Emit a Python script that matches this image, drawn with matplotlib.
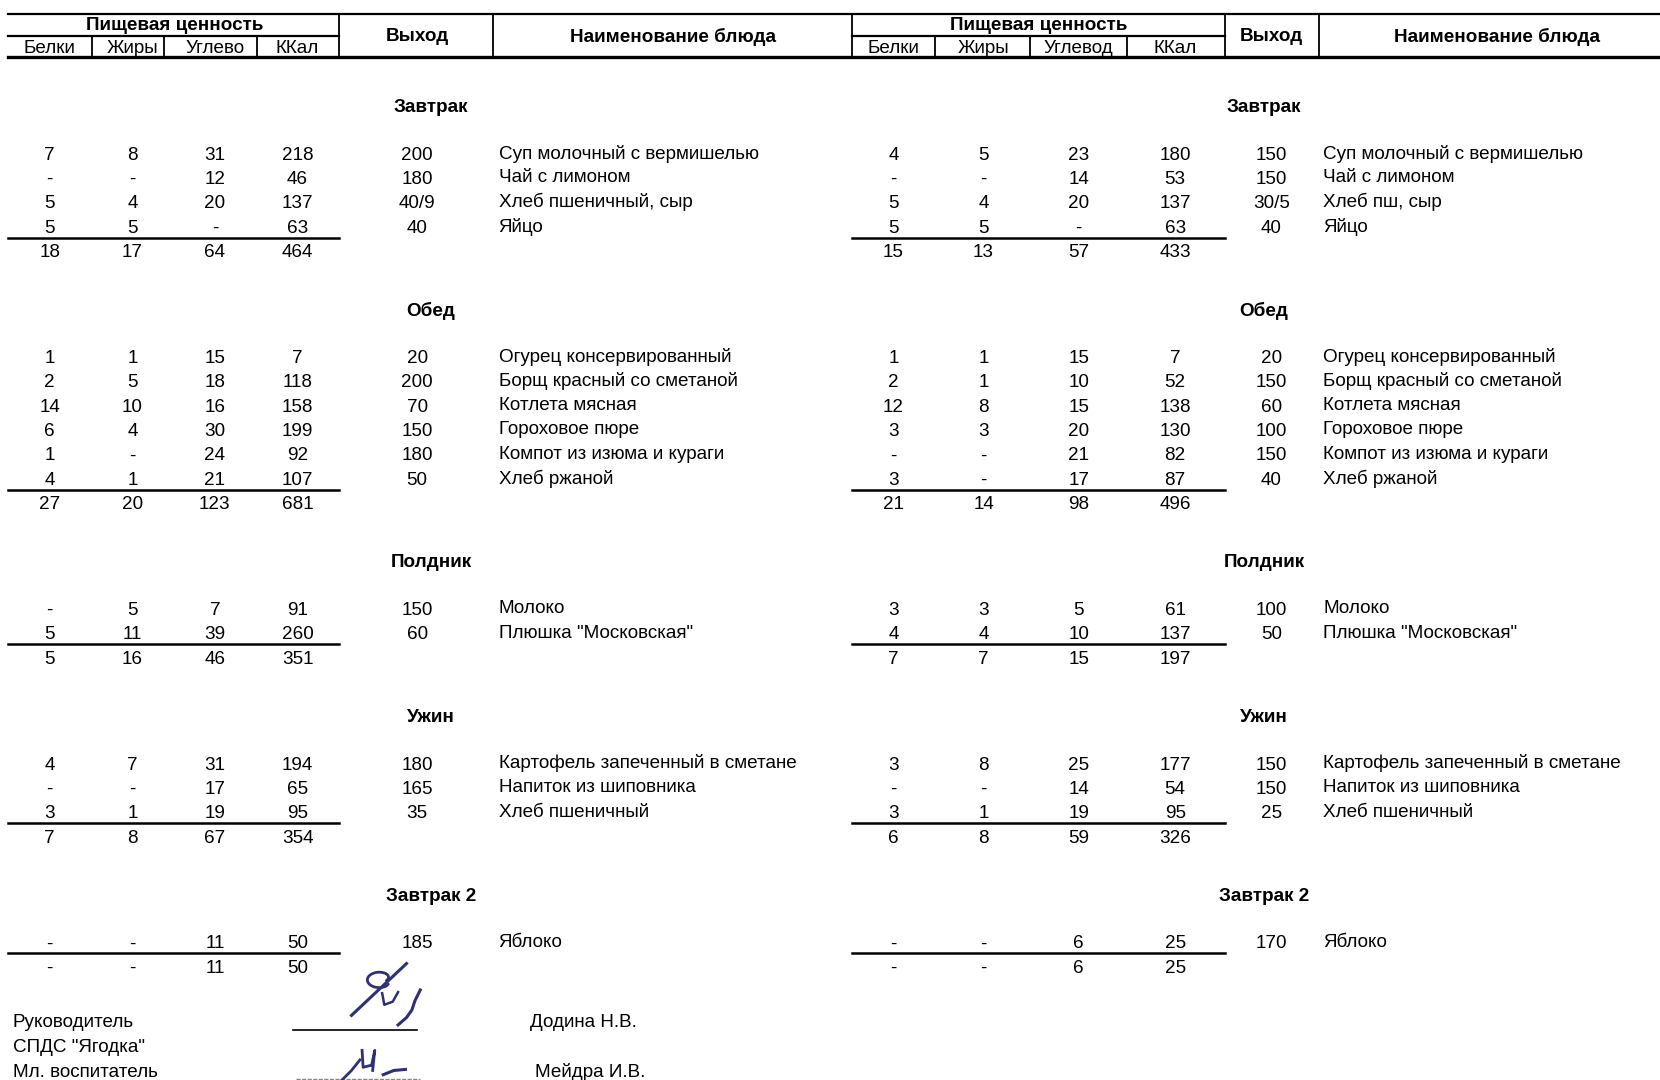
import numpy as np
import matplotlib.pyplot as plt
from matplotlib import font_manager

# =========================================================
# DATA
# =========================================================

sections = ["Завтрак", "Обед", "Полдник", "Ужин", "Завтрак 2"]

# columns: белки, жиры, углеводы, ккал, выход, блюдо
breakfast_left = [
    ["7", "8", "31", "218", "200", "Суп молочный с вермишелью"],
    ["-", "-", "12", "46", "180", "Чай с лимоном"],
    ["5", "4", "20", "137", "40/9", "Хлеб пшеничный, сыр"],
    ["5", "5", "-", "63", "40", "Яйцо"],
]
breakfast_left_total = ["18", "17", "64", "464"]

breakfast_right = [
    ["4", "5", "23", "180", "150", "Суп молочный с вермишелью"],
    ["-", "-", "14", "53", "150", "Чай с лимоном"],
    ["5", "4", "20", "137", "30/5", "Хлеб пш, сыр"],
    ["5", "5", "-", "63", "40", "Яйцо"],
]
breakfast_right_total = ["15", "13", "57", "433"]

lunch_left = [
    ["1", "1", "15", "7", "20", "Огурец консервированный"],
    ["2", "5", "18", "118", "200", "Борщ красный со сметаной"],
    ["14", "10", "16", "158", "70", "Котлета мясная"],
    ["6", "4", "30", "199", "150", "Гороховое пюре"],
    ["1", "-", "24", "92", "180", "Компот из изюма и кураги"],
    ["4", "1", "21", "107", "50", "Хлеб ржаной"],
]
lunch_left_total = ["27", "20", "123", "681"]

lunch_right = [
    ["1", "1", "15", "7", "20", "Огурец консервированный"],
    ["2", "1", "10", "52", "150", "Борщ красный со сметаной"],
    ["12", "8", "15", "138", "60", "Котлета мясная"],
    ["3", "3", "20", "130", "100", "Гороховое пюре"],
    ["-", "-", "21", "82", "150", "Компот из изюма и кураги"],
    ["3", "-", "17", "87", "40", "Хлеб ржаной"],
]
lunch_right_total = ["21", "14", "98", "496"]

snack_left = [
    ["-", "5", "7", "91", "150", "Молоко"],
    ["5", "11", "39", "260", "60", "Плюшка \"Московская\""],
]
snack_left_total = ["5", "16", "46", "351"]

snack_right = [
    ["3", "3", "5", "61", "100", "Молоко"],
    ["4", "4", "10", "137", "50", "Плюшка \"Московская\""],
]
snack_right_total = ["7", "7", "15", "197"]

dinner_left = [
    ["4", "7", "31", "194", "180", "Картофель запеченный в сметане"],
    ["-", "-", "17", "65", "165", "Напиток из шиповника"],
    ["3", "1", "19", "95", "35", "Хлеб пшеничный"],
]
dinner_left_total = ["7", "8", "67", "354"]

dinner_right = [
    ["3", "8", "25", "177", "150", "Картофель запеченный в сметане"],
    ["-", "-", "14", "54", "150", "Напиток из шиповника"],
    ["3", "1", "19", "95", "25", "Хлеб пшеничный"],
]
dinner_right_total = ["6", "8", "59", "326"]

breakfast2_left = [["-", "-", "11", "50", "185", "Яблоко"]]
breakfast2_left_total = ["-", "-", "11", "50"]

breakfast2_right = [["-", "-", "6", "25", "170", "Яблоко"]]
breakfast2_right_total = ["-", "-", "6", "25"]

left_rows = [breakfast_left, lunch_left, snack_left, dinner_left, breakfast2_left]
left_totals = [breakfast_left_total, lunch_left_total, snack_left_total,
               dinner_left_total, breakfast2_left_total]
right_rows = [breakfast_right, lunch_right, snack_right, dinner_right, breakfast2_right]
right_totals = [breakfast_right_total, lunch_right_total, snack_right_total,
                dinner_right_total, breakfast2_right_total]

left_sub = ["Белки", "Жиры", "Углево", "ККал"]
right_sub = ["Белки", "Жиры", "Углевод", "ККал"]

signers = ["Руководитель", "СПДС \"Ягодка\"", "Мл. воспитатель"]
signer_names = ["Додина Н.В.", "Мейдра И.В."]

# =========================================================
# LAYOUT (page units)
# =========================================================

W, H = 1568, 1020
fs = 13.6
dy = 2.5   # nudge text down a little

left_cols = [47, 125, 203, 281, 394, 471]
right_cols = [844, 929, 1019, 1110, 1201, 1250]
left_span = (8, 320)
right_span = (805, 1157)
left_title_x = 407
right_title_x = 1194

names = [f.name for f in font_manager.fontManager.ttflist]
family = "Liberation Sans" if "Liberation Sans" in names else "DejaVu Sans"
plt.rcParams['font.family'] = [family, 'DejaVu Sans']

fig = plt.figure(figsize=(16.6, 10.8), dpi=100)
ax = fig.add_axes([0, 0, 1, 1])
ax.set_xlim(0, W)
ax.set_ylim(H, 0)
ax.axis('off')

# =========================================================
# HEADER
# =========================================================

ax.plot([8, W], [13, 13], color='black', lw=1.6)
ax.plot([8, W], [54, 54], color='black', lw=2.4)
ax.plot([8, 320], [34, 34], color='black', lw=1.6)
ax.plot([805, 1157], [34, 34], color='black', lw=1.6)
for xv in [320, 466, 805, 1157, 1246]:
    ax.plot([xv, xv], [13, 54], color='black', lw=1.3)
for xv in [87, 155, 243, 883, 973, 1065]:
    ax.plot([xv, xv], [34, 54], color='black', lw=1.3)

for cols, sub, pc_x, name_x in [(left_cols, left_sub, 165, 636),
                                 (right_cols, right_sub, 981, 1414)]:
    ax.text(pc_x, 24, "Пищевая ценность", ha='center', va='center',
            fontsize=fs, fontweight='bold')
    for x, s in zip(cols[:4], sub):
        ax.text(x, 45.5, s, ha='center', va='center', fontsize=fs)
    ax.text(cols[4], 34.5, "Выход", ha='center', va='center',
            fontsize=fs, fontweight='bold')
    ax.text(name_x, 34.5, "Наименование блюда", ha='center', va='center',
            fontsize=fs, fontweight='bold')

# =========================================================
# SECTIONS
# =========================================================

title_y = 99
for i, title in enumerate(sections):
    ax.text(left_title_x, title_y + dy, title, ha='center', va='center',
            fontsize=fs, fontweight='bold')
    ax.text(right_title_x, title_y + dy, title, ha='center', va='center',
            fontsize=fs, fontweight='bold')
    y0 = title_y + 44
    for rows, total, cols, span in [(left_rows[i], left_totals[i], left_cols, left_span),
                                    (right_rows[i], right_totals[i], right_cols, right_span)]:
        for r, row in enumerate(rows):
            y = y0 + r * 23
            for x, v in zip(cols[:5], row[:5]):
                ax.text(x, y + 1 + dy, v, ha='center', va='center', fontsize=fs)
            ax.text(cols[5], y - 0.5 + dy, row[5], ha='left', va='center', fontsize=fs)
        y_last = y0 + (len(rows) - 1) * 23
        ax.plot(span, [y_last + 12.5, y_last + 12.5], color='black', lw=1.8)
        for x, v in zip(cols[:4], total):
            ax.text(x, y_last + 24 + dy, v, ha='center', va='center', fontsize=fs)
    title_y = y_last + 24 + 55

# =========================================================
# FOOTER
# =========================================================

for k, s in enumerate(signers):
    ax.text(12, 963 + k * 23.5 + dy, s, ha='left', va='center', fontsize=fs)
ax.text(501, 963 + dy, signer_names[0], ha='left', va='center', fontsize=fs)
ax.text(505, 1010 + dy, signer_names[1], ha='left', va='center', fontsize=fs)
ax.plot([277, 394], [973, 973], color='black', lw=1.2)
ax.plot([280, 397], [1019, 1019], color='#888888', lw=1.0, ls=(0, (3, 1)))

# signatures (rough handwriting strokes)
ink = '#2e3270'
ax.plot([332, 384], [959, 910], color=ink, lw=2.2)
t = np.linspace(0.3, 2 * np.pi + 0.6, 40)
ax.plot(357 + 10 * np.cos(t), 928 + 6 * np.sin(t) - 0.8 * t, color=ink, lw=2)
ax.plot([361, 363, 371, 376], [938, 949, 946, 937], color=ink, lw=1.8)
ax.plot([397, 392, 389, 384, 376], [935, 945, 954, 961, 968], color=ink, lw=2.2)
ax.plot([323, 332, 340], [1020, 1011, 1001], color=ink, lw=2)
ax.plot([342, 343, 351, 354, 352], [992, 1008, 1006, 992, 1011], color=ink, lw=2)
ax.plot([362, 372, 383], [1015, 1011, 1010], color=ink, lw=2.2)

fig.savefig("out.png", dpi=100, facecolor='white')
